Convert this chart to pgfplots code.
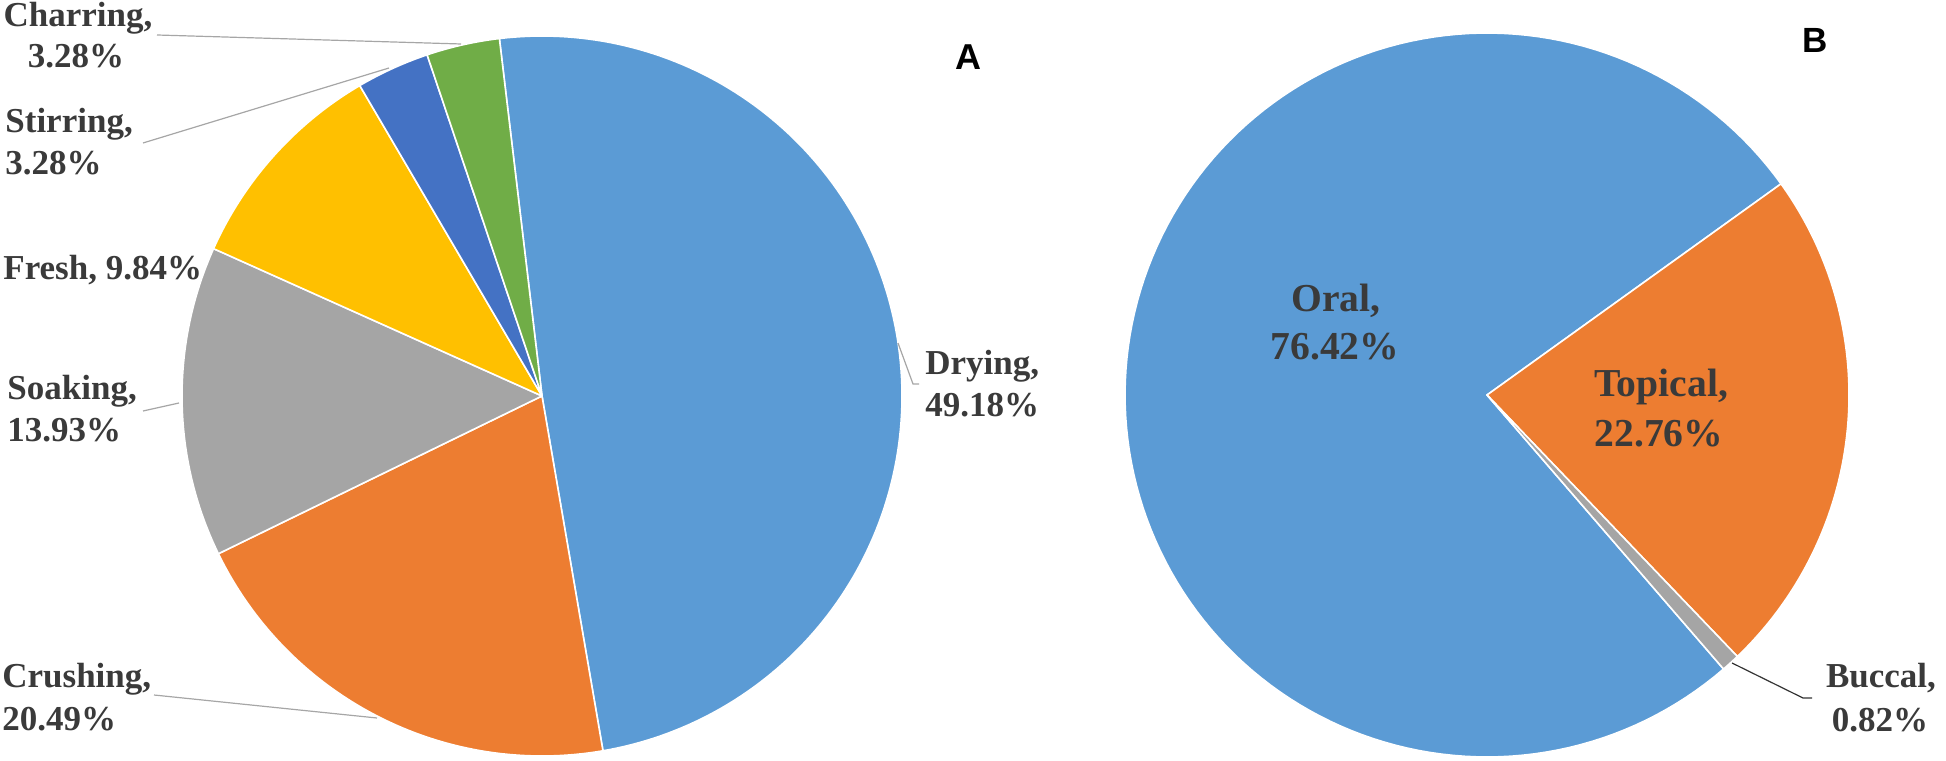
\documentclass[border=0pt]{standalone}
\usepackage{fontspec}
\setmainfont{Liberation Serif}
\newfontfamily\arialfont{Liberation Sans}
\usepackage{pgfplots}
\pgfplotsset{compat=1.18}

\definecolor{cblue}{HTML}{5B9BD5}
\definecolor{corange}{HTML}{ED7D31}
\definecolor{cgray}{HTML}{A5A5A5}
\definecolor{cyellow}{HTML}{FFC000}
\definecolor{cdblue}{HTML}{4472C4}
\definecolor{cgreen}{HTML}{70AD47}
\definecolor{labtxt}{HTML}{3A3A3A}
\definecolor{leader}{HTML}{A6A6A6}

% one slice: centre x, centre y, radius, start angle, percent, colour
% slices run clockwise, \nextstart holds where the next one begins
\newcommand\slice[6]{%
  \pgfmathsetmacro\sa{#4}%
  \pgfmathsetmacro\ea{#4-3.6*#5}%
  \edef\tmp{\noexpand\addplot[fill=#6, draw=white, line width=0.8pt,
      line join=round, domain=\ea:\sa, samples=150]
    ({#1+#3*cos(x)},{#2+#3*sin(x)}) -- (axis cs:#1,#2) -- cycle;}%
  \tmp
  \global\let\nextstart\ea
}

\newcommand\outlab{\bfseries\fontsize{17.5}{21}\selectfont\color{labtxt}}
\newcommand\inlab{\bfseries\fontsize{19.8}{24}\selectfont\color{labtxt}}

\begin{document}
\begin{tikzpicture}[every node/.style={inner sep=0pt}]
\begin{axis}[
  hide axis,
  scale only axis,
  width=973pt, height=380pt,
  xmin=0, xmax=1946, ymin=0, ymax=760,
  clip=false,
]
\path (axis cs:0,0) rectangle (axis cs:1946,760);

% ---- pie A (processing) ----
\slice{542}{364}{360}{96.8}{49.18}{cblue}      % Drying
\slice{542}{364}{360}{\nextstart}{20.49}{corange} % Crushing
\slice{542}{364}{360}{\nextstart}{13.93}{cgray}   % Soaking
\slice{542}{364}{360}{\nextstart}{9.84}{cyellow}  % Fresh
\slice{542}{364}{360}{\nextstart}{3.28}{cdblue}   % Stirring
\slice{542}{364}{360}{\nextstart}{3.28}{cgreen}   % Charring

% ---- pie B (route) ----
\slice{1487}{365}{362}{310.8}{76.42}{cblue}       % Oral
\slice{1487}{365}{362}{\nextstart}{22.76}{corange}% Topical
\slice{1487}{365}{362}{\nextstart}{0.82}{cgray}   % Buccal

% leader lines
\draw[leader, line width=0.6pt] (axis cs:157,725) -- (axis cs:461,716);
\draw[leader, line width=0.6pt] (axis cs:143,617) -- (axis cs:389,692);
\draw[leader, line width=0.6pt] (axis cs:143,349) -- (axis cs:179,357);
\draw[leader, line width=0.6pt] (axis cs:154,65) -- (axis cs:377,42);
\draw[leader, line width=0.6pt] (axis cs:898,417) -- (axis cs:913,376) -- (axis cs:919,376);
\draw[black!80, line width=0.6pt] (axis cs:1732,97) -- (axis cs:1803,62) -- (axis cs:1812,62);

% labels, A side
\node[anchor=base, font=\outlab] at (axis cs:78,733) {Charring,};
\node[anchor=base, font=\outlab] at (axis cs:76,692) {3.28\%};
\node[anchor=base west, font=\outlab] at (axis cs:5,627) {Stirring,};
\node[anchor=base west, font=\outlab] at (axis cs:5,585) {3.28\%};
\node[anchor=base west, font=\outlab] at (axis cs:3,480) {Fresh, 9.84\%};
\node[anchor=base west, font=\outlab] at (axis cs:7,360) {Soaking,};
\node[anchor=base west, font=\outlab] at (axis cs:7,318) {13.93\%};
\node[anchor=base west, font=\outlab] at (axis cs:2,73) {Crushing,};
\node[anchor=base west, font=\outlab] at (axis cs:2,30) {20.49\%};
\node[anchor=base west, font=\outlab] at (axis cs:925,385) {Drying,};
\node[anchor=base west, font=\outlab] at (axis cs:925,343) {49.18\%};

% labels, B side
\node[anchor=base, font=\inlab] at (axis cs:1336,448) {Oral,};
\node[anchor=base, font=\inlab] at (axis cs:1335,400) {76.42\%};
\node[anchor=base, font=\inlab] at (axis cs:1661,363) {Topical,};
\node[anchor=base, font=\inlab] at (axis cs:1659,313) {22.76\%};
\node[anchor=base, font=\outlab] at (axis cs:1881,73) {Buccal,};
\node[anchor=base, font=\outlab] at (axis cs:1880,29) {0.82\%};

% panel letters
\node[font=\arialfont\bfseries\fontsize{18}{20}\selectfont] at (axis cs:968,703) {A};
\node[font=\arialfont\bfseries\fontsize{17.5}{20}\selectfont] at (axis cs:1815,720) {B};
\end{axis}
\end{tikzpicture}
\end{document}
